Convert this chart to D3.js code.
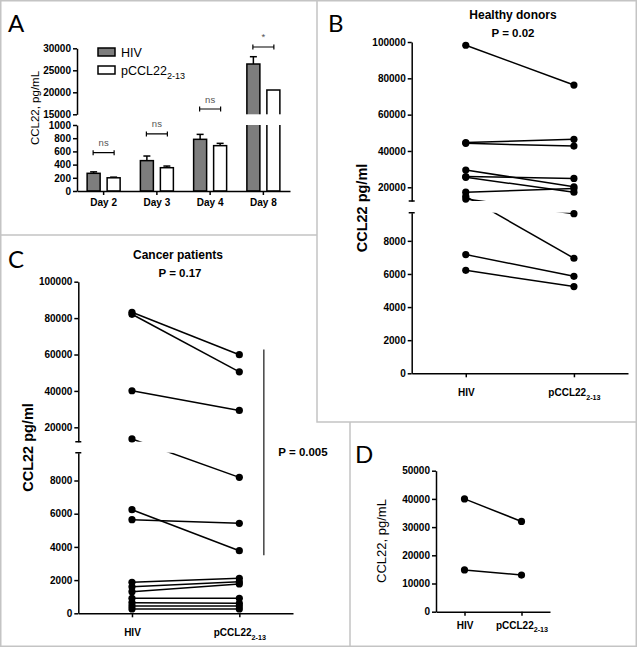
<!DOCTYPE html>
<html>
<head>
<meta charset="utf-8">
<script src="https://cdn.jsdelivr.net/npm/d3@7"></script>
<style>
  html, body { margin: 0; padding: 0; background: #fff; }
  svg { display: block; font-family: 'Liberation Sans', Arial, sans-serif; }
  .axis path, .axis line { stroke: #000; stroke-width: 1.5; }
  .axis text { font-size: 10px; font-weight: bold; fill: #000; font-family: 'Liberation Sans', Arial, sans-serif; }
  .letter { font-family: Lato, 'Open Sans', sans-serif; font-size: 24px; fill: #000; }
</style>
</head>
<body>
<svg id="fig" width="637" height="647"></svg>
<script>
(function () {
  'use strict';

  // panel A : bars
  var days = ['Day 2', 'Day 3', 'Day 4', 'Day 8'];
  var groups = ['HIV', 'pCCL22'];
  var hivMean = [268, 460, 783, 26430];
  var hivErr = [22, 70, 75, 1660];
  var pcclMean = [200, 353, 687, 20520];
  var pcclErr = [10, 25, 35, 0];
  var sigLabels = ['ns', 'ns', 'ns', '*'];
  var sigLevels = [580, 865, 16200, 30300];
  var ticksALow = [0, 200, 400, 600, 800, 1000];
  var ticksAHigh = [15000, 20000, 25000, 30000];

  // panel B : healthy donors
  var healthyHIV = [98200, 44600, 44200, 29500, 25900, 25500, 17300, 15000, 13500, 7170, 6220];
  var healthyPCCL = [76300, 46400, 42700, 20300, 24900, 17300, 19400, 6950, 9640, 5860, 5240];

  // panel C : cancer patients
  var cancerHIV = [83200, 82100, 40100, 13600, 6240, 5640, 1870, 1600, 1300, 900, 640, 440, 260];
  var cancerPCCL = [59900, 50500, 29300, 8190, 3770, 5420, 2110, 1900, 1765, 900, 600, 440, 260];
  var cancerBracket = [3500, 62800];

  var ticksHigh = [20000, 40000, 60000, 80000, 100000];
  var ticksLow = [0, 2000, 4000, 6000, 8000];

  // panel D
  var dHIV = [40000, 14800];
  var dPCCL = [32000, 13000];
  var ticksD = [0, 10000, 20000, 30000, 40000, 50000];

  var svg = d3.select('#fig');
  var fmt = d3.format('d');

  function brokenY(low, high) {
    return function (v) {
      if (v <= low.domain()[1]) return low(v);
      if (v >= high.domain()[0]) return high(v);
      var t = (v - low.domain()[1]) / (high.domain()[0] - low.domain()[1]);
      return low.range()[1] + t * (high.range()[0] - low.range()[1]);
    };
  }

  function subscript(sel, size) {
    sel.each(function () {
      var t = d3.select(this);
      t.text('pCCL22');
      t.append('tspan').attr('dy', size * 0.35).attr('font-size', (size * 0.72) + 'px').text('2-13');
    });
  }

  function yAxis(g, x, scale, ticks) {
    return g.append('g').attr('class', 'axis')
      .attr('transform', 'translate(' + x + ',0)')
      .call(d3.axisLeft(scale).tickValues(ticks).tickSize(4).tickSizeOuter(0).tickPadding(2).tickFormat(fmt));
  }

  function rotLabel(g, x, y, txt, size, weight) {
    g.append('text')
      .attr('transform', 'translate(' + x + ',' + y + ') rotate(-90)')
      .attr('text-anchor', 'middle')
      .attr('dominant-baseline', 'central')
      .attr('font-size', size)
      .attr('font-weight', weight)
      .text(txt);
  }

  // frames
  var frame = svg.append('g').attr('stroke', '#c4c4c4').attr('stroke-width', 1.5).attr('fill', 'none');
  frame.append('rect').attr('x', 0.75).attr('y', 0.75).attr('width', 635.5).attr('height', 645.5);
  frame.append('path').attr('d', 'M317,0V422H637M0,235H317M350,422V647');

  // ---------- A ----------
  var gA = svg.append('g');
  var xA = d3.scaleBand().domain(days).range([77, 290]);
  var xSub = d3.scaleBand().domain(groups).range([0, 33]).paddingInner(0.35);
  var yALow = d3.scaleLinear().domain([0, 1000]).range([191, 125]);
  var yAHigh = d3.scaleLinear().domain([15000, 30000]).range([114.3, 48.3]);
  var yA = brokenY(yALow, yAHigh);

  var barData = [];
  days.forEach(function (d, i) {
    barData.push({ day: d, grp: 'HIV', v: hivMean[i], e: hivErr[i] });
    barData.push({ day: d, grp: 'pCCL22', v: pcclMean[i], e: pcclErr[i] });
  });
  function barX(d) { return xA(d.day) + (xA.bandwidth() - 33) / 2 + xSub(d.grp); }

  var err = gA.selectAll('g.err').data(barData.filter(function (d) { return d.e > 0; }))
    .enter().append('g').attr('stroke', '#000').attr('stroke-width', 1.5);
  err.append('line')
    .attr('x1', function (d) { return barX(d) + xSub.bandwidth() / 2; })
    .attr('x2', function (d) { return barX(d) + xSub.bandwidth() / 2; })
    .attr('y1', function (d) { return yA(d.v); })
    .attr('y2', function (d) { return yA(d.v + d.e); });
  err.append('line')
    .attr('x1', function (d) { return barX(d) + xSub.bandwidth() / 2 - 3.5; })
    .attr('x2', function (d) { return barX(d) + xSub.bandwidth() / 2 + 3.5; })
    .attr('y1', function (d) { return yA(d.v + d.e); })
    .attr('y2', function (d) { return yA(d.v + d.e); });

  gA.selectAll('rect.bar').data(barData).enter().append('rect')
    .attr('x', barX)
    .attr('width', xSub.bandwidth())
    .attr('y', function (d) { return yA(d.v); })
    .attr('height', function (d) { return yA(0) - yA(d.v); })
    .attr('fill', function (d) { return d.grp === 'HIV' ? '#7d7d7d' : '#fff'; })
    .attr('stroke', '#000')
    .attr('stroke-width', 1.5);

  gA.append('rect').attr('x', 78).attr('y', yAHigh.range()[0])
    .attr('width', 214).attr('height', yALow.range()[1] - yAHigh.range()[0]).attr('fill', '#fff');

  yAxis(gA, 77, yALow, ticksALow);
  yAxis(gA, 77, yAHigh, ticksAHigh);
  gA.append('g').attr('class', 'axis').attr('transform', 'translate(0,191)')
    .call(d3.axisBottom(xA).tickSize(4).tickSizeOuter(0).tickPadding(4));

  var sig = gA.selectAll('g.sig').data(days).enter().append('g')
    .attr('transform', function (d, i) {
      return 'translate(' + (xA(d) + xA.bandwidth() / 2) + ',' + yA(sigLevels[i]) + ')';
    });
  sig.append('path').attr('d', 'M-10.5,-2.5V2.5M-10.5,0H10.5M10.5,-2.5V2.5')
    .attr('stroke', '#000').attr('stroke-width', 1.2).attr('fill', 'none');
  sig.append('text').attr('y', -6.5).attr('text-anchor', 'middle')
    .attr('font-size', 9.5).attr('fill', '#555')
    .text(function (d, i) { return sigLabels[i]; });

  var leg = gA.selectAll('g.leg').data(groups).enter().append('g')
    .attr('transform', function (d, i) { return 'translate(98,' + (48 + i * 18) + ')'; });
  leg.append('rect').attr('width', 17).attr('height', 8)
    .attr('fill', function (d) { return d === 'HIV' ? '#7d7d7d' : '#fff'; })
    .attr('stroke', '#000').attr('stroke-width', 1.5);
  leg.append('text').attr('x', 23).attr('y', 8.5).attr('font-size', 12.5)
    .each(function (d) {
      if (d === 'HIV') d3.select(this).text('HIV');
      else subscript(d3.select(this), 12.5);
    });

  rotLabel(gA, 35, 108, 'CCL22, pg/mL', 11.5, 'normal');
  gA.append('text').attr('class', 'letter').attr('x', 8).attr('y', 32).text('A');

  // ---------- paired panels ----------
  function drawPaired(o) {
    var g = svg.append('g');
    var x = d3.scalePoint().domain(groups).range([o.left, o.right]).padding(0.5);
    var y = o.high ? brokenY(o.low, o.high) : o.low;
    var pairs = o.hiv.map(function (v, i) { return [v, o.pccl[i]]; });

    g.selectAll('line.pair').data(pairs).enter().append('line')
      .attr('x1', x('HIV')).attr('x2', x('pCCL22'))
      .attr('y1', function (d) { return y(d[0]); })
      .attr('y2', function (d) { return y(d[1]); })
      .attr('stroke', '#000').attr('stroke-width', 1.5);

    if (o.high) {
      g.append('rect').attr('x', o.left + 1).attr('y', o.high.range()[0])
        .attr('width', o.right - o.left).attr('height', o.low.range()[1] - o.high.range()[0])
        .attr('fill', '#fff');
    }

    var dots = [];
    pairs.forEach(function (p) {
      dots.push({ g: 'HIV', v: p[0] });
      dots.push({ g: 'pCCL22', v: p[1] });
    });
    g.selectAll('circle').data(dots).enter().append('circle')
      .attr('cx', function (d) { return x(d.g); })
      .attr('cy', function (d) { return y(d.v); })
      .attr('r', o.r)
      .attr('fill', '#000');

    yAxis(g, o.left, o.low, o.ticksLow);
    if (o.high) {
      yAxis(g, o.left, o.high, o.ticksHigh);
      g.append('path')
        .attr('d', 'M' + (o.left - 3) + ',' + o.high.range()[0] + 'h6M' + (o.left - 3) + ',' + o.low.range()[1] + 'h6')
        .attr('stroke', '#000').attr('stroke-width', 1.5);
    }
    var xa = g.append('g').attr('class', 'axis')
      .attr('transform', 'translate(0,' + o.low.range()[0] + ')')
      .call(d3.axisBottom(x).tickSize(4).tickSizeOuter(0).tickPadding(o.xPad));
    xa.selectAll('.tick text').attr('font-size', o.xFont + 'px');
    subscript(xa.selectAll('.tick text').filter(function (d) { return d === 'pCCL22'; }), o.xFont);
    return { g: g, x: x, y: y };
  }

  // ---------- B ----------
  var pB = drawPaired({
    left: 411.7, right: 628,
    low: d3.scaleLinear().domain([0, 9700]).range([373.3, 212.7]),
    high: d3.scaleLinear().domain([12450, 100000]).range([201, 42]),
    ticksLow: ticksLow, ticksHigh: ticksHigh,
    hiv: healthyHIV, pccl: healthyPCCL, r: 3.6, xPad: 12, xFont: 10
  });
  pB.g.append('text').attr('x', 513).attr('y', 18.5).attr('text-anchor', 'middle')
    .attr('font-size', 12).attr('font-weight', 'bold').text('Healthy donors');
  pB.g.append('text').attr('x', 513).attr('y', 37).attr('text-anchor', 'middle')
    .attr('font-size', 11.5).attr('font-weight', 'bold').text('P = 0.02');
  rotLabel(pB.g, 361.7, 208, 'CCL22 pg/ml', 14.5, 'bold');
  pB.g.append('text').attr('class', 'letter').attr('x', 328).attr('y', 32).text('B');

  // ---------- C ----------
  var pC = drawPaired({
    left: 78.3, right: 293,
    low: d3.scaleLinear().domain([0, 9675]).range([613.3, 452.7]),
    high: d3.scaleLinear().domain([12100, 100000]).range([441.7, 281.7]),
    ticksLow: ticksLow, ticksHigh: ticksHigh,
    hiv: cancerHIV, pccl: cancerPCCL, r: 3.6, xPad: 12, xFont: 10
  });
  pC.g.append('text').attr('x', 178).attr('y', 258.5).attr('text-anchor', 'middle')
    .attr('font-size', 12).attr('font-weight', 'bold').text('Cancer patients');
  pC.g.append('text').attr('x', 180).attr('y', 276.5).attr('text-anchor', 'middle')
    .attr('font-size', 11.5).attr('font-weight', 'bold').text('P = 0.17');
  var bx = pC.x('pCCL22') + 24.5;
  pC.g.append('line').attr('x1', bx).attr('x2', bx)
    .attr('y1', pC.y(cancerBracket[1])).attr('y2', pC.y(cancerBracket[0]))
    .attr('stroke', '#444').attr('stroke-width', 1.5);
  pC.g.append('text').attr('x', bx + 14.5).attr('y', (pC.y(cancerBracket[1]) + pC.y(cancerBracket[0])) / 2 + 4)
    .attr('font-size', 11.5).attr('font-weight', 'bold').text('P = 0.005');
  rotLabel(pC.g, 28, 447.5, 'CCL22 pg/ml', 14.5, 'bold');
  pC.g.append('text').attr('class', 'letter').attr('x', 8).attr('y', 268).text('C');

  // ---------- D ----------
  var pD = drawPaired({
    left: 436, right: 550,
    low: d3.scaleLinear().domain([0, 50000]).range([611.7, 470.7]),
    ticksLow: ticksD,
    hiv: dHIV, pccl: dPCCL, r: 3.6, xPad: 6, xFont: 10
  });
  rotLabel(pD.g, 381.7, 541, 'CCL22, pg/mL', 13, 'normal');
  pD.g.append('text').attr('class', 'letter').attr('x', 355).attr('y', 463).text('D');
})();
</script>
</body>
</html>
